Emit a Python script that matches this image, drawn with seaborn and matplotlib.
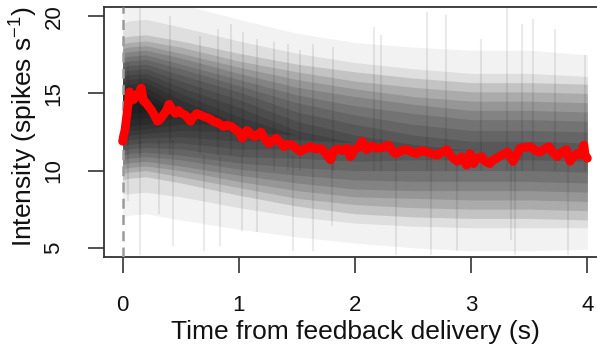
import matplotlib
matplotlib.use("Agg")
import matplotlib.pyplot as plt
import seaborn as sns
import pandas as pd

# mean intensity (red trace)
red_t = [0.00, 0.01, 0.02, 0.04, 0.06, 0.08, 0.095, 0.12, 0.14, 0.16, 0.18, 0.20, 0.22, 0.25,
         0.28, 0.30, 0.32, 0.34, 0.37, 0.40, 0.43, 0.455, 0.48, 0.50, 0.54, 0.585, 0.61, 0.64,
         0.67, 0.70, 0.74, 0.78, 0.82, 0.87, 0.90, 0.94, 0.98, 1.00, 1.03, 1.07, 1.10, 1.14,
         1.19, 1.22, 1.26, 1.32, 1.36, 1.39, 1.42, 1.46, 1.50, 1.53, 1.57, 1.62, 1.66, 1.70,
         1.74, 1.79, 1.82, 1.85, 1.89, 1.93, 1.96, 2.00, 2.03, 2.06, 2.10, 2.14, 2.19, 2.24,
         2.29, 2.32, 2.35, 2.40, 2.45, 2.49, 2.53, 2.57, 2.62, 2.66, 2.71, 2.75, 2.79, 2.83,
         2.88, 2.92, 2.96, 2.99, 3.02, 3.05, 3.09, 3.12, 3.16, 3.19, 3.22, 3.26, 3.31, 3.34,
         3.36, 3.39, 3.42, 3.46, 3.51, 3.55, 3.59, 3.63, 3.67, 3.70, 3.74, 3.78, 3.82, 3.85,
         3.88, 3.91, 3.94, 3.97, 3.98, 4.00]
red_y = [11.9, 12.3, 12.6, 13.8, 15.1, 14.8, 14.6, 14.9, 15.0, 15.35, 14.5, 14.4, 14.2, 13.9,
         13.5, 13.2, 13.3, 13.5, 13.8, 14.3, 13.9, 13.7, 13.9, 13.75, 13.6, 13.2, 13.5, 13.7,
         13.6, 13.5, 13.4, 13.2, 13.1, 12.85, 12.95, 12.85, 12.6, 12.5, 12.1, 12.6, 12.4, 12.2,
         12.5, 12.1, 11.75, 12.1, 11.8, 11.55, 11.7, 11.65, 11.4, 11.25, 11.4, 11.55, 11.4, 11.45,
         11.2, 10.7, 11.3, 11.4, 11.3, 11.45, 10.9, 11.4, 11.5, 11.9, 11.35, 11.6, 11.45, 11.5,
         11.65, 11.3, 11.1, 11.3, 11.35, 11.2, 11.1, 11.3, 11.2, 11.1, 11.0, 11.2, 11.35, 10.9,
         10.6, 10.9, 10.35, 11.1, 10.45, 10.8, 10.9, 10.6, 10.45, 10.7, 10.8, 11.0, 11.2, 10.9,
         10.6, 11.0, 11.45, 11.5, 11.55, 11.3, 11.2, 11.4, 11.55, 11.2, 10.9, 11.2, 11.35, 10.6,
         10.9, 11.1, 11.0, 11.65, 11.0, 10.8]

# spread of the single-trial traces (gray cloud): centre and nested half-widths
band_t = [0.0, 0.05, 0.2, 0.5, 1.0, 1.5, 2.0, 2.5, 3.0, 3.5, 4.0]
cloud_mid = [14.0, 14.1, 14.2, 13.8, 13.0, 12.3, 11.8, 11.5, 11.3, 11.3, 11.2]
cloud_half = [
    [7.0, 7.0, 7.0, 7.0, 6.8, 6.6, 6.5, 6.5, 6.5, 6.5, 6.3],
    [5.5, 5.6, 5.6, 5.5, 5.4, 5.3, 5.2, 5.1, 5.0, 5.0, 4.9],
    [4.6, 4.6, 4.6, 4.6, 4.6, 4.6, 4.6, 4.5, 4.4, 4.4, 4.4],
    [4.2, 4.2, 4.2, 4.2, 4.1, 4.1, 4.0, 3.9, 3.8, 3.8, 3.8],
    [3.9, 3.9, 3.9, 3.8, 3.7, 3.6, 3.5, 3.3, 3.2, 3.2, 3.2],
    [3.6, 3.6, 3.6, 3.5, 3.3, 3.1, 3.0, 2.8, 2.6, 2.6, 2.6],
    [3.3, 3.3, 3.3, 3.1, 2.9, 2.6, 2.4, 2.2, 2.0, 2.0, 2.0],
    [3.0, 3.0, 3.0, 2.8, 2.5, 2.1, 1.8, 1.5, 1.3, 1.3, 1.3],
    [2.7, 2.7, 2.7, 2.4, 2.1, 1.5, 1.2, 0.8, 0.6, 0.6, 0.6],
    [2.4, 2.4, 2.4, 2.0, 1.6, 0.9, 0.5, 0.2, 0.0, 0.0, 0.0],
    [2.1, 2.1, 2.1, 1.6, 1.1, 0.3, 0.0, 0.0, 0.0, 0.0, 0.0],
    [1.8, 1.8, 1.8, 1.2, 0.5, 0.0, 0.0, 0.0, 0.0, 0.0, 0.0],
    [1.5, 1.5, 1.5, 0.8, 0.0, 0.0, 0.0, 0.0, 0.0, 0.0, 0.0],
    [1.2, 1.2, 1.2, 0.3, 0.0, 0.0, 0.0, 0.0, 0.0, 0.0, 0.0],
    [0.8, 0.8, 0.8, 0.0, 0.0, 0.0, 0.0, 0.0, 0.0, 0.0, 0.0],
    [0.4, 0.4, 0.4, 0.0, 0.0, 0.0, 0.0, 0.0, 0.0, 0.0, 0.0],
]
cloud_alpha = [0.05, 0.08] + [0.12] * 14

# isolated faint excursions of single trials
streak_t = [0.05, 0.15, 0.15, 0.31, 0.41, 0.43, 0.67, 0.70, 0.82, 0.84, 0.93, 1.03, 1.04,
            1.16, 1.30, 1.42, 1.47, 1.53, 1.64, 1.80, 1.81, 2.16, 2.22, 2.35, 2.62, 2.65,
            2.78, 2.88, 3.08, 3.31, 3.34, 3.38, 3.44, 3.53, 3.72, 3.83, 3.98]
streak_lo = [8.0, 4.5, 11.0, 7.2, 11.0, 5.1, 11.0, 4.8, 11.0, 5.1, 11.0, 6.1, 11.0,
             6.0, 10.0, 10.0, 4.8, 10.0, 4.8, 6.4, 10.0, 10.0, 10.0, 4.5, 10.0, 4.5,
             10.0, 4.8, 10.0, 10.0, 5.5, 4.5, 10.0, 10.0, 10.0, 4.5, 10.0]
streak_hi = [17.0, 12.0, 20.6, 12.0, 20.0, 12.0, 18.7, 11.0, 19.2, 11.0, 19.5, 11.0, 19.0,
             18.5, 18.3, 18.2, 11.0, 17.8, 18.2, 11.0, 18.0, 19.3, 18.8, 11.0, 20.3, 11.0,
             20.1, 11.0, 18.5, 20.6, 11.0, 11.0, 19.5, 19.8, 19.2, 11.0, 17.5]

sns.set_style("ticks")
plt.rcParams["font.family"] = ["Liberation Sans", "DejaVu Sans"]
plt.rcParams["mathtext.fontset"] = "custom"
plt.rcParams["mathtext.rm"] = "Liberation Sans"
plt.rcParams["mathtext.default"] = "regular"

fig = plt.figure(figsize=(5.97, 3.45), dpi=100)
ax = fig.add_axes([104 / 597, 88 / 345, 502 / 597, 250 / 345])

for half, a in zip(cloud_half, cloud_alpha):
    lo = [m - h for m, h in zip(cloud_mid, half)]
    hi = [m + h for m, h in zip(cloud_mid, half)]
    ax.fill_between(band_t, lo, hi, color="black", alpha=a, linewidth=0)
ax.vlines(streak_t, streak_lo, streak_hi, color="black", alpha=0.08, linewidth=1.5)

ax.axvline(0, color="#9a9a9a", linestyle=(0, (4, 2.5)), linewidth=1.8, zorder=3)

red = pd.DataFrame({"t": red_t, "y": red_y})
sns.lineplot(data=red, x="t", y="y", color="red", linewidth=6.3, ax=ax, zorder=4)

ax.set_xlim(-0.16, 4.16)
ax.set_ylim(4.4, 20.6)
ax.set_xticks([0, 1, 2, 3, 4])
ax.set_yticks([5, 10, 15, 20])
ax.set_xticklabels(["0", "1", "2", "3", "4"])
ax.set_yticklabels(["5", "10", "15", "20"], rotation=90, va="center")
ax.tick_params(axis="both", length=11.5, width=1.2, color="#333333", labelsize=16,
               labelcolor="#111111")
ax.tick_params(axis="x", pad=16)
ax.tick_params(axis="y", pad=17)
for s in ax.spines.values():
    s.set_linewidth(1.3)
    s.set_color("#333333")

ax.set_xlabel("Time from feedback delivery (s)", fontsize=19, color="#111111")
ax.set_ylabel("Intensity (spikes s$^{-1}$)", fontsize=19, color="#111111")
ax.xaxis.set_label_coords(0.5, -0.25)
ax.yaxis.set_label_coords(-0.127, 0.52)

fig.savefig("out.png", dpi=100)
